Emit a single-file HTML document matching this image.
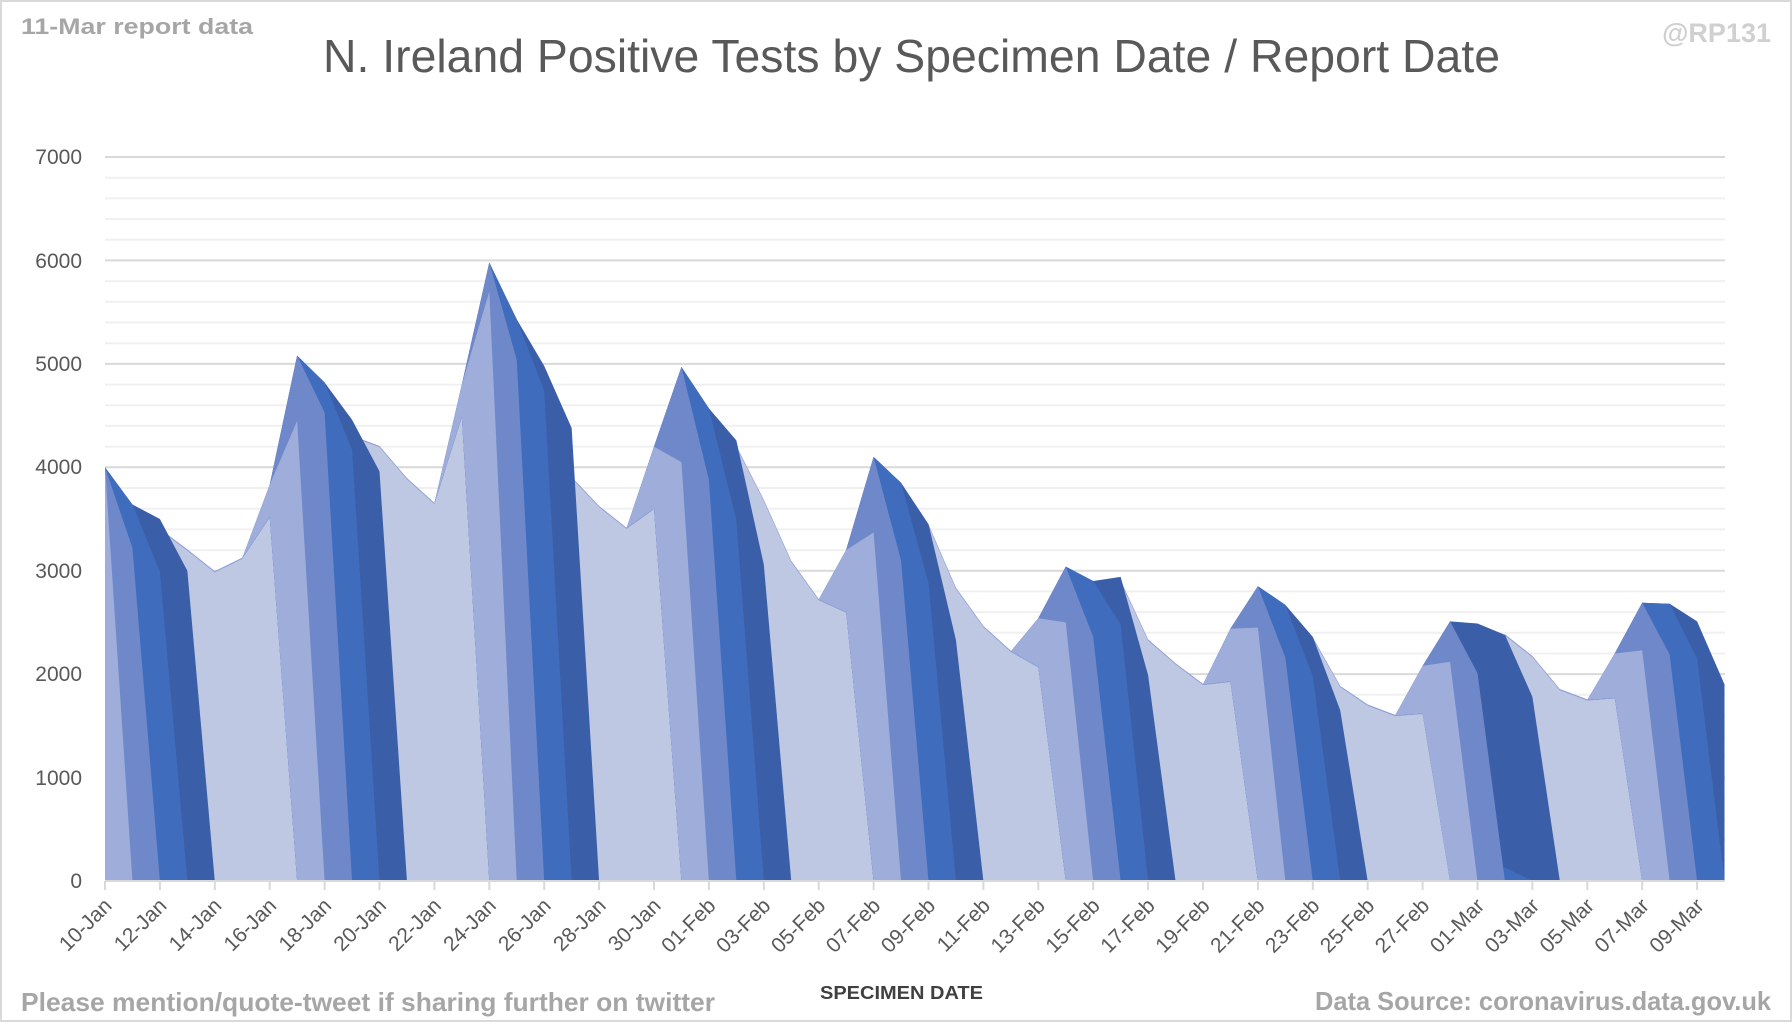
<!DOCTYPE html>
<html><head><meta charset="utf-8"><style>
html,body{margin:0;padding:0;background:#fff;}
svg{display:block;font-family:"Liberation Sans",sans-serif;}
</style></head><body>
<svg width="1792" height="1022" viewBox="0 0 1792 1022" xmlns="http://www.w3.org/2000/svg">
<rect x="1" y="1" width="1790" height="1020" fill="#fff" stroke="#d9d9d9" stroke-width="2"/>
<defs><clipPath id="pc"><rect x="0" y="0" width="59" height="8"/></clipPath></defs>
<g stroke="#f0f0f0" stroke-width="2">
<line x1="105" x2="1725" y1="860.3" y2="860.3"/><line x1="105" x2="1725" y1="839.6" y2="839.6"/><line x1="105" x2="1725" y1="819" y2="819"/><line x1="105" x2="1725" y1="798.3" y2="798.3"/>
<line x1="105" x2="1725" y1="756.9" y2="756.9"/><line x1="105" x2="1725" y1="736.2" y2="736.2"/><line x1="105" x2="1725" y1="715.5" y2="715.5"/><line x1="105" x2="1725" y1="694.8" y2="694.8"/>
<line x1="105" x2="1725" y1="653.5" y2="653.5"/><line x1="105" x2="1725" y1="632.8" y2="632.8"/><line x1="105" x2="1725" y1="612.1" y2="612.1"/><line x1="105" x2="1725" y1="591.4" y2="591.4"/>
<line x1="105" x2="1725" y1="550.1" y2="550.1"/><line x1="105" x2="1725" y1="529.4" y2="529.4"/><line x1="105" x2="1725" y1="508.7" y2="508.7"/><line x1="105" x2="1725" y1="488" y2="488"/>
<line x1="105" x2="1725" y1="446.6" y2="446.6"/><line x1="105" x2="1725" y1="425.9" y2="425.9"/><line x1="105" x2="1725" y1="405.3" y2="405.3"/><line x1="105" x2="1725" y1="384.6" y2="384.6"/>
<line x1="105" x2="1725" y1="343.2" y2="343.2"/><line x1="105" x2="1725" y1="322.5" y2="322.5"/><line x1="105" x2="1725" y1="301.8" y2="301.8"/><line x1="105" x2="1725" y1="281.1" y2="281.1"/>
<line x1="105" x2="1725" y1="239.8" y2="239.8"/><line x1="105" x2="1725" y1="219.1" y2="219.1"/><line x1="105" x2="1725" y1="198.4" y2="198.4"/><line x1="105" x2="1725" y1="177.7" y2="177.7"/>
</g>
<g stroke="#d9d9d9" stroke-width="2">
<line x1="105" x2="1725" y1="777.6" y2="777.6"/><line x1="105" x2="1725" y1="674.1" y2="674.1"/><line x1="105" x2="1725" y1="570.7" y2="570.7"/><line x1="105" x2="1725" y1="467.3" y2="467.3"/><line x1="105" x2="1725" y1="363.9" y2="363.9"/><line x1="105" x2="1725" y1="260.4" y2="260.4"/><line x1="105" x2="1725" y1="157" y2="157"/>
</g>
<g transform="translate(105,881) scale(27.45,-103.43)">
<g clip-path="url(#pc)">
<polygon fill="#bfc8e3" stroke="#8c9fd6" stroke-width="0.012" points="0,0 0,3.9 1,3.5 2,3.4 3,3.2 4,2.99 5,3.12 6,3.52 7,4.0 8,4.0 9,4.3 10,4.2 11,3.89 12,3.65 13,4.49 14,4.0 15,4.0 16,4.0 17,3.9 18,3.62 19,3.41 20,3.6 21,3.0 22,3.0 23,4.2 24,3.68 25,3.09 26,2.72 27,2.6 28,2.5 29,2.5 30,3.44 31,2.83 32,2.46 33,2.22 34,2.07 35,2.0 36,2.0 37,2.9 38,2.33 39,2.1 40,1.9 41,1.93 42,1.8 43,1.8 44,2.35 45,1.88 46,1.7 47,1.6 48,1.62 49,1.6 50,1.6 51,2.38 52,2.17 53,1.85 54,1.75 55,1.77 56,1.5 57,1.5 58,1.5 59,1.5 59,0"/>
<polygon fill="#3a5fa8" points="0,0 0,4.0 1,3.64 2,3.5 3,3.0 4,0"/>
<polygon fill="#3f6cbd" points="0,0 0,4.0 1,3.64 2,2.99 3,0"/>
<polygon fill="#6f88c9" points="0,0 0,4.0 1,3.22 2,0"/>
<polygon fill="#9eadd9" points="0,0 0,4.0 1,0"/>
<polygon fill="#3a5fa8" points="7,0 6,3.52 5,3.12 6,3.83 7,5.08 8,4.82 9,4.46 10,3.96 11,0"/>
<polygon fill="#3f6cbd" points="7,0 6,3.52 5,3.12 6,3.83 7,5.08 8,4.82 9,4.17 10,0"/>
<polygon fill="#6f88c9" points="7,0 6,3.52 5,3.12 6,3.83 7,5.08 8,4.53 9,0"/>
<polygon fill="#9eadd9" points="7,0 6,3.52 5,3.12 6,3.83 7,4.45 8,0"/>
<polygon fill="#3a5fa8" points="14,0 13,4.49 12,3.65 13,4.8 14,5.98 15,5.43 16,4.98 17,4.38 18,0"/>
<polygon fill="#3f6cbd" points="14,0 13,4.49 12,3.65 13,4.8 14,5.98 15,5.43 16,4.74 17,0"/>
<polygon fill="#6f88c9" points="14,0 13,4.49 12,3.65 13,4.8 14,5.98 15,5.04 16,0"/>
<polygon fill="#9eadd9" points="14,0 13,4.49 12,3.65 13,4.8 14,5.7 15,0"/>
<polygon fill="#3a5fa8" points="21,0 20,3.6 19,3.41 20,4.2 21,4.97 22,4.57 23,4.26 24,3.06 25,0"/>
<polygon fill="#3f6cbd" points="21,0 20,3.6 19,3.41 20,4.2 21,4.97 22,4.57 23,3.49 24,0"/>
<polygon fill="#6f88c9" points="21,0 20,3.6 19,3.41 20,4.2 21,4.97 22,3.88 23,0"/>
<polygon fill="#9eadd9" points="21,0 20,3.6 19,3.41 20,4.2 21,4.05 22,0"/>
<polygon fill="#3a5fa8" points="28,0 27,2.6 26,2.72 27,3.2 28,4.1 29,3.85 30,3.45 31,2.33 32,0"/>
<polygon fill="#3f6cbd" points="28,0 27,2.6 26,2.72 27,3.2 28,4.1 29,3.85 30,2.88 31,0"/>
<polygon fill="#6f88c9" points="28,0 27,2.6 26,2.72 27,3.2 28,4.1 29,3.1 30,0"/>
<polygon fill="#9eadd9" points="28,0 27,2.6 26,2.72 27,3.2 28,3.37 29,0"/>
<polygon fill="#3a5fa8" points="35,0 34,2.07 33,2.22 34,2.54 35,3.04 36,2.9 37,2.94 38,1.99 39,0"/>
<polygon fill="#3f6cbd" points="35,0 34,2.07 33,2.22 34,2.54 35,3.04 36,2.9 37,2.48 38,0"/>
<polygon fill="#6f88c9" points="35,0 34,2.07 33,2.22 34,2.54 35,3.04 36,2.36 37,0"/>
<polygon fill="#9eadd9" points="35,0 34,2.07 33,2.22 34,2.54 35,2.5 36,0"/>
<polygon fill="#3a5fa8" points="42,0 41,1.93 40,1.9 41,2.44 42,2.85 43,2.67 44,2.36 45,1.65 46,0"/>
<polygon fill="#3f6cbd" points="42,0 41,1.93 40,1.9 41,2.44 42,2.85 43,2.67 44,1.98 45,0"/>
<polygon fill="#6f88c9" points="42,0 41,1.93 40,1.9 41,2.44 42,2.85 43,2.16 44,0"/>
<polygon fill="#9eadd9" points="42,0 41,1.93 40,1.9 41,2.44 42,2.45 43,0"/>
<polygon fill="#3a5fa8" points="49,0 48,1.62 47,1.6 48,2.08 49,2.51 50,2.49 51,2.38 52,1.78 53,0"/>
<polygon fill="#3f6cbd" points="50,0 51,0.13 52,0"/>
<polygon fill="#6f88c9" points="49,0 48,1.62 47,1.6 48,2.08 49,2.51 50,2.01 51,0"/>
<polygon fill="#9eadd9" points="49,0 48,1.62 47,1.6 48,2.08 49,2.12 50,0"/>
<polygon fill="#3a5fa8" points="56,0 55,1.77 54,1.75 55,2.2 56,2.69 57,2.68 58,2.51 59,1.9 60,0"/>
<polygon fill="#3f6cbd" points="56,0 55,1.77 54,1.75 55,2.2 56,2.69 57,2.68 58,2.15 59,0"/>
<polygon fill="#6f88c9" points="56,0 55,1.77 54,1.75 55,2.2 56,2.69 57,2.19 58,0"/>
<polygon fill="#9eadd9" points="56,0 55,1.77 54,1.75 55,2.2 56,2.23 57,0"/>
</g>
</g>
<line x1="105" x2="1725" y1="881" y2="881" stroke="#d9d9d9" stroke-width="2"/>
<g stroke="#d9d9d9" stroke-width="2">
<line x1="105" x2="105" y1="881" y2="890"/><line x1="159.9" x2="159.9" y1="881" y2="890"/><line x1="214.8" x2="214.8" y1="881" y2="890"/><line x1="269.7" x2="269.7" y1="881" y2="890"/><line x1="324.6" x2="324.6" y1="881" y2="890"/><line x1="379.5" x2="379.5" y1="881" y2="890"/><line x1="434.4" x2="434.4" y1="881" y2="890"/><line x1="489.3" x2="489.3" y1="881" y2="890"/><line x1="544.2" x2="544.2" y1="881" y2="890"/><line x1="599.1" x2="599.1" y1="881" y2="890"/><line x1="654" x2="654" y1="881" y2="890"/><line x1="708.9" x2="708.9" y1="881" y2="890"/><line x1="763.8" x2="763.8" y1="881" y2="890"/><line x1="818.7" x2="818.7" y1="881" y2="890"/><line x1="873.6" x2="873.6" y1="881" y2="890"/><line x1="928.5" x2="928.5" y1="881" y2="890"/><line x1="983.4" x2="983.4" y1="881" y2="890"/><line x1="1038.3" x2="1038.3" y1="881" y2="890"/><line x1="1093.2" x2="1093.2" y1="881" y2="890"/><line x1="1148.1" x2="1148.1" y1="881" y2="890"/><line x1="1203" x2="1203" y1="881" y2="890"/><line x1="1257.9" x2="1257.9" y1="881" y2="890"/><line x1="1312.8" x2="1312.8" y1="881" y2="890"/><line x1="1367.7" x2="1367.7" y1="881" y2="890"/><line x1="1422.6" x2="1422.6" y1="881" y2="890"/><line x1="1477.5" x2="1477.5" y1="881" y2="890"/><line x1="1532.4" x2="1532.4" y1="881" y2="890"/><line x1="1587.3" x2="1587.3" y1="881" y2="890"/><line x1="1642.2" x2="1642.2" y1="881" y2="890"/><line x1="1697.1" x2="1697.1" y1="881" y2="890"/>
</g>
<g font-size="21" fill="#595959" text-anchor="end">
<text x="82" y="888">0</text><text x="82" y="785">1000</text><text x="82" y="681">2000</text><text x="82" y="578">3000</text><text x="82" y="474">4000</text><text x="82" y="371">5000</text><text x="82" y="268">6000</text><text x="82" y="164">7000</text>
</g>
<g font-size="21" fill="#595959" text-anchor="end">
<text transform="translate(113,907) rotate(-45)">10-Jan</text>
<text transform="translate(167.9,907) rotate(-45)">12-Jan</text>
<text transform="translate(222.8,907) rotate(-45)">14-Jan</text>
<text transform="translate(277.7,907) rotate(-45)">16-Jan</text>
<text transform="translate(332.6,907) rotate(-45)">18-Jan</text>
<text transform="translate(387.5,907) rotate(-45)">20-Jan</text>
<text transform="translate(442.4,907) rotate(-45)">22-Jan</text>
<text transform="translate(497.3,907) rotate(-45)">24-Jan</text>
<text transform="translate(552.2,907) rotate(-45)">26-Jan</text>
<text transform="translate(607.1,907) rotate(-45)">28-Jan</text>
<text transform="translate(662,907) rotate(-45)">30-Jan</text>
<text transform="translate(716.9,907) rotate(-45)">01-Feb</text>
<text transform="translate(771.8,907) rotate(-45)">03-Feb</text>
<text transform="translate(826.7,907) rotate(-45)">05-Feb</text>
<text transform="translate(881.6,907) rotate(-45)">07-Feb</text>
<text transform="translate(936.5,907) rotate(-45)">09-Feb</text>
<text transform="translate(991.4,907) rotate(-45)">11-Feb</text>
<text transform="translate(1046.3,907) rotate(-45)">13-Feb</text>
<text transform="translate(1101.2,907) rotate(-45)">15-Feb</text>
<text transform="translate(1156.1,907) rotate(-45)">17-Feb</text>
<text transform="translate(1211,907) rotate(-45)">19-Feb</text>
<text transform="translate(1265.9,907) rotate(-45)">21-Feb</text>
<text transform="translate(1320.8,907) rotate(-45)">23-Feb</text>
<text transform="translate(1375.7,907) rotate(-45)">25-Feb</text>
<text transform="translate(1430.6,907) rotate(-45)">27-Feb</text>
<text transform="translate(1485.5,907) rotate(-45)">01-Mar</text>
<text transform="translate(1540.4,907) rotate(-45)">03-Mar</text>
<text transform="translate(1595.3,907) rotate(-45)">05-Mar</text>
<text transform="translate(1650.2,907) rotate(-45)">07-Mar</text>
<text transform="translate(1705.1,907) rotate(-45)">09-Mar</text>
</g>
<text x="323" y="72" font-size="46" fill="#595959" textLength="1177" lengthAdjust="spacingAndGlyphs">N. Ireland Positive Tests by Specimen Date / Report Date</text>
<text x="21" y="34" font-size="22" font-weight="bold" fill="#a6a6a6" textLength="232" lengthAdjust="spacingAndGlyphs">11-Mar report data</text>
<text x="1771" y="42" font-size="27" font-weight="bold" fill="#d0d0d0" text-anchor="end">@RP131</text>
<text x="820" y="999" font-size="18" font-weight="bold" fill="#404040" textLength="163" lengthAdjust="spacingAndGlyphs">SPECIMEN DATE</text>
<text x="21" y="1011" font-size="26" font-weight="bold" fill="#a6a6a6" textLength="694" lengthAdjust="spacingAndGlyphs">Please mention/quote-tweet if sharing further on twitter</text>
<text x="1315" y="1010" font-size="26" font-weight="bold" fill="#a6a6a6" textLength="456" lengthAdjust="spacingAndGlyphs">Data Source: coronavirus.data.gov.uk</text>
</svg>
</body></html>
